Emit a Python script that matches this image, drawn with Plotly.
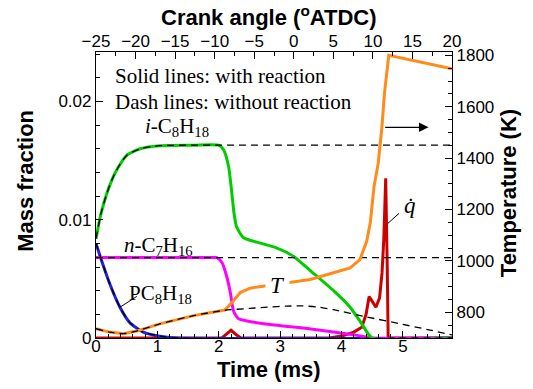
import plotly.graph_objects as go

# ---- species mass fractions (with reaction) ----
t_ic8 = [0, 0.08, 0.175, 0.27, 0.365, 0.5, 0.72, 1.04, 1.59, 2.0, 2.08, 2.16, 2.21, 2.25,
         2.29, 2.4, 2.62, 2.95, 3.22, 3.49, 3.87, 4.14, 4.33, 4.5, 5.8]
y_ic8 = [0.0084, 0.0105, 0.0122, 0.0135, 0.01446, 0.01544, 0.0160, 0.01626, 0.0163, 0.0163,
         0.0159, 0.0145, 0.0124, 0.0105, 0.0094, 0.0085, 0.0081, 0.0076, 0.0069, 0.0057,
         0.0040, 0.0026, 0.0012, 0.0, 0.0]

t_nc7 = [0, 1.9, 1.97, 2.05, 2.13, 2.19, 2.24, 2.32, 2.46, 2.95, 3.44, 3.87, 4.28, 4.5, 5.8]
y_nc7 = [0.0068, 0.0068, 0.0068, 0.0064, 0.0052, 0.0038, 0.0023, 0.00164, 0.00144, 0.00107,
         0.0008, 0.0005, 0.0002, 0.0, 0.0]

t_pc8 = [0, 0.1, 0.23, 0.39, 0.55, 0.77, 1.04, 1.3, 5.8]
y_pc8 = [0.0080, 0.0064, 0.0045, 0.0026, 0.0013, 0.0005, 0.00015, 0.0, 0.0]

# ---- heat release rate (scaled to the mass-fraction axis) ----
t_hrr = [0, 2.05, 2.12, 2.2, 2.28, 2.36, 3.8, 4.03, 4.2, 4.33, 4.4, 4.45, 4.5, 4.56, 4.62,
         4.66, 4.69, 4.72, 4.745, 4.76, 5.8]
y_hrr = [0, 0, 0.0003, 0.00065, 0.0003, 0, 0, 0.0002, 0.0005, 0.0009, 0.0020, 0.0035, 0.0031,
         0.0026, 0.0034, 0.0055, 0.0085, 0.0135, 0.006, 0, 0]

# ---- temperature (K) with reaction ----
t_T = [0, 0.22, 0.45, 0.66, 1.04, 1.59, 2.1, 2.17, 2.24, 2.35, 2.51, 2.78, 3.16, 3.49, 3.87,
       4.14, 4.3, 4.41, 4.47, 4.53, 4.6, 4.66, 4.7, 4.74, 4.77, 5.8]
T_rx = [736, 723, 717, 727, 755, 787, 809, 825, 845, 877, 894, 903, 915, 928, 954,
        973, 1005, 1076, 1150, 1290, 1383, 1526, 1653, 1742, 1800, 1748]

# ---- without reaction ----
t_ic8_nr = [0, 0.08, 0.175, 0.27, 0.365, 0.5, 0.72, 1.04, 1.59, 2.0, 5.8]
y_ic8_nr = [0.0084, 0.0105, 0.0122, 0.0135, 0.01446, 0.01544, 0.0160, 0.01626, 0.0163, 0.0163, 0.0163]
t_nc7_nr = [0, 5.8]
y_nc7_nr = [0.0068, 0.0068]
t_T_nr = [0, 0.22, 0.45, 0.66, 1.04, 1.59, 2.1, 2.5, 2.8, 3.1, 3.35, 3.6, 3.87, 4.41, 4.96, 5.4, 5.8]
T_nr = [736, 723, 717, 727, 755, 787, 808, 815, 820, 824, 825, 821, 810, 782, 755, 733, 712]

# ---- axes ----
time_range = [0, 5.8]
crank_range = [-25, 20]
yf_range = [0, 0.02418]
temp_range = [700, 1813]

SANS = "Arial, Liberation Sans, sans-serif"
SERIF = "Times New Roman, Liberation Serif, serif"

GREEN = "#00CC00"
MAGENTA = "#FF00FF"
BLUE = "#2222DD"
ORANGE = "#FF8C1A"
RED = "#CC0000"

fig = go.Figure()

def solid(x, y, color, yaxis="y", shape="spline", width=3):
    fig.add_trace(go.Scatter(x=x, y=y, mode="lines", yaxis=yaxis, hoverinfo="skip",
                             line=dict(color=color, width=width, shape=shape, smoothing=0.6)))

def dashed(x, y, yaxis="y", shape="spline"):
    fig.add_trace(go.Scatter(x=x, y=y, mode="lines", yaxis=yaxis, hoverinfo="skip",
                             line=dict(color="black", width=1.3, dash="7px,5px",
                                       shape=shape, smoothing=0.6)))

solid(t_hrr, y_hrr, RED, shape="linear", width=3)
solid(t_pc8, y_pc8, BLUE)
solid(t_nc7, y_nc7, MAGENTA)
solid(t_ic8, y_ic8, GREEN)
solid(t_T, T_rx, ORANGE, yaxis="y2", shape="linear")

dashed(t_ic8_nr, y_ic8_nr)
dashed(t_nc7_nr, y_nc7_nr)
dashed(t_pc8, y_pc8)
dashed(t_T_nr, T_nr, yaxis="y2")

# crank-angle scale on the top axis
fig.add_trace(go.Scatter(x=crank_range, y=[None, None], xaxis="x2", mode="lines",
                         hoverinfo="skip", showlegend=False))

axis_style = dict(showline=True, linecolor="black", linewidth=1.2, mirror=False,
                  ticks="inside", ticklen=7, tickwidth=1.2, tickcolor="black",
                  showgrid=False, zeroline=False,
                  tickfont=dict(family=SANS, size=17, color="black"))

def minor(d):
    return dict(dtick=d, ticks="inside", ticklen=4, tickwidth=1, tickcolor="black", showgrid=False)

fig.update_layout(
    width=533, height=389,
    margin=dict(l=96, r=81, t=52, b=51),
    plot_bgcolor="white", paper_bgcolor="white",
    showlegend=False,
    xaxis=dict(range=time_range, tick0=0, dtick=1, minor=minor(0.2),
               ticklabelstandoff=-8, **axis_style),
    xaxis2=dict(range=crank_range, overlaying="x", side="top", anchor="y",
                tick0=-25, dtick=5, minor=minor(2.5), ticklabelstandoff=-3, **axis_style),
    yaxis=dict(range=yf_range, tick0=0, dtick=0.01, minor=minor(0.002), **axis_style),
    yaxis2=dict(range=temp_range, overlaying="y", side="right", anchor="x",
                tick0=0, dtick=200, minor=minor(50), **axis_style),
)

ann = []
def title(text, x, y, angle=0):
    ann.append(dict(text=text, x=x, y=y, xref="paper", yref="paper", showarrow=False,
                    textangle=angle, xanchor="center", yanchor="middle",
                    font=dict(family=SANS, size=22, color="black")))

title("<b>Time (ms)</b>", 0.4846, -0.1094)
title("<b>Crank angle (<sup>o</sup>ATDC)</b>", 0.4846, 1.1245)
title("<b>Mass fraction</b>", -0.1966, 0.5497, -90)
title("<b>Temperature (K)</b>", 1.157, 0.506, -90)

def label(text, x, y, yref="y", size=21, bg=None, pad=1, xanchor="left"):
    a = dict(text=text, x=x, y=y, xref="x", yref=yref, showarrow=False,
             xanchor=xanchor, yanchor="middle", borderpad=pad,
             font=dict(family=SERIF, size=size, color="black"))
    if bg:
        a["bgcolor"] = bg
    ann.append(a)

label("Solid lines: with reaction", 0.28, 0.02212)
label("Dash lines: without reaction", 0.28, 0.01992)
label("<i>i</i>-C<sub>8</sub>H<sub>18</sub>", 0.76, 0.01784)
label("<i>n</i>-C<sub>7</sub>H<sub>16</sub>", 0.42, 0.00782)
label("PC<sub>8</sub>H<sub>18</sub>", 0.50, 0.00369)
label("<i>T</i>", 2.95, 906, yref="y2", size=23, bg="white", pad=4, xanchor="center")
label("<i>q\u0307</i>", 5.11, 0.01122, size=23, xanchor="center")

def pointer(x0, y0, x1, y1, yref="y", head=0, size=1, width=1):
    ann.append(dict(x=x1, y=y1, ax=x0, ay=y0, xref="x", yref=yref, axref="x", ayref=yref,
                    text="", showarrow=True, arrowhead=head, arrowsize=size,
                    arrowwidth=width, arrowcolor="black", standoff=0, startstandoff=0))

pointer(0.69, 0.0036, 0.38, 0.00257)
pointer(4.96, 0.01065, 4.752, 0.00967)
pointer(4.687, 1520, 5.418, 1520, yref="y2", head=2, size=1.6, width=1.2)

fig.update_layout(annotations=ann)
fig.write_html("out.html")
